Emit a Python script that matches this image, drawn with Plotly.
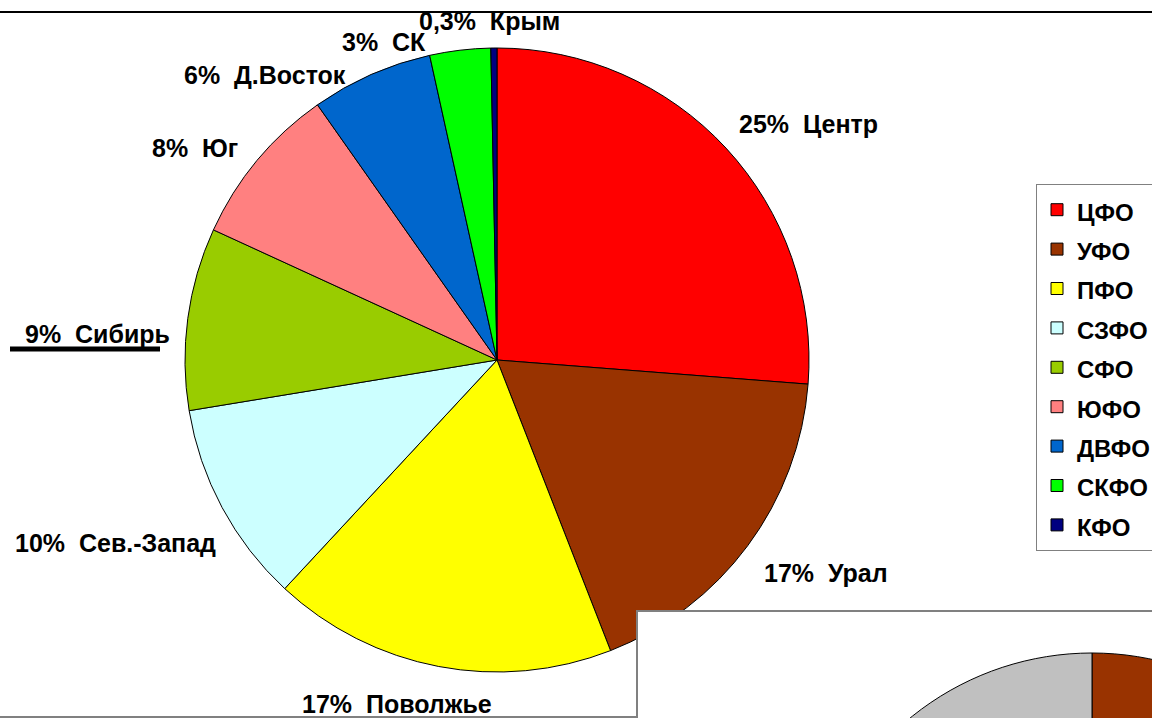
import numpy as np
import plotly.graph_objects as go

# federal districts, clockwise from 12 o'clock
districts = ["ЦФО", "УФО", "ПФО", "СЗФО", "СФО", "ЮФО", "ДВФО", "СКФО", "КФО"]
shares = [25, 17, 17, 10, 9, 8, 6, 3, 0.3]
pct_labels = ["25%", "17%", "17%", "10%", "9%", "8%", "6%", "3%", "0,3%"]
short_names = ["Центр", "Урал", "Поволжье", "Сев.-Запад", "Сибирь", "Юг",
               "Д.Восток", "СК", "Крым"]
colors = ["#FF0000", "#993300", "#FFFF00", "#CCFFFF", "#99CC00", "#FF8080",
          "#0066CC", "#00FF00", "#000080"]

# second (cut off) chart in the lower right corner
inset_values = [50, 50]
inset_colors = ["#993300", "#C0C0C0"]

W, H = 1152, 718
FONT = "Liberation Sans"
CX, CY, R = 497, 360, 312  # main pie centre / radius, px

# label placement relative to the slice's rim point (px), and anchor side
label_shift = [(11, 24), (14, -27), (-42, -37), (-4, -35), (-16, -16),
               (-17, 12), (-23, 0), (-32, 8), (-4, 27)]
label_anchor = ["left", "left", "center", "right", "right", "right",
                "right", "right", "center"]

legend_txt = ['<span style="font-size:24px">%s</span>' % d for d in districts]


def px(x, y):
    return x / W, 1 - y / H


fig = go.Figure()

fig.add_trace(go.Pie(
    labels=legend_txt,
    values=shares,
    textinfo="none",
    marker=dict(colors=colors, line=dict(color="black", width=1)),
    sort=False,
    direction="clockwise",
    rotation=0,
    hoverinfo="skip",
    domain=dict(x=[(CX - R) / W, (CX + R) / W],
                y=[1 - (CY + R) / H, 1 - (CY - R) / H]),
))

# labels anchored at the middle of each slice's arc
cum = np.cumsum([0] + shares) / sum(shares)
mid = (cum[:-1] + cum[1:]) / 2 * 2 * np.pi
annotations = []
for i, (p, n) in enumerate(zip(pct_labels, short_names)):
    rx = CX + R * np.sin(mid[i])
    ry = CY - R * np.cos(mid[i])
    ax, ay = px(rx, ry)
    annotations.append(dict(
        x=ax, y=ay, xref="paper", yref="paper",
        text=p + "\u00a0\u00a0" + n, showarrow=False,
        xanchor=label_anchor[i], yanchor="middle",
        xshift=label_shift[i][0], yshift=label_shift[i][1],
        font=dict(family=FONT, size=25, color="black", weight="bold"),
    ))

shapes = []
# frame lines
shapes.append(dict(type="line", xref="paper", yref="paper", x0=0, x1=1,
                   y0=px(0, 12)[1], y1=px(0, 12)[1],
                   line=dict(color="black", width=2), layer="below"))
shapes.append(dict(type="line", xref="paper", yref="paper", x0=0, x1=1,
                   y0=px(0, 717)[1], y1=px(0, 717)[1],
                   line=dict(color="#808080", width=2), layer="below"))
# stray underline under the Сибирь label
shapes.append(dict(type="line", xref="paper", yref="paper",
                   x0=px(10, 0)[0], x1=px(160, 0)[0],
                   y0=px(0, 349)[1], y1=px(0, 349)[1],
                   line=dict(color="black", width=5)))
# inset box
shapes.append(dict(type="rect", xref="paper", yref="paper",
                   x0=px(637, 0)[0], x1=1.05, y0=-0.05, y1=px(0, 611)[1],
                   fillcolor="white", line=dict(color="#808080", width=2),
                   layer="above"))

# inset pie wedges, clockwise from 12 o'clock
icx, icy, ir = 1092, 940, 287
fracs = np.cumsum([0] + inset_values) / sum(inset_values)
for i, col in enumerate(inset_colors):
    a = np.linspace(fracs[i], fracs[i + 1], 80) * 2 * np.pi
    xs = icx + ir * np.sin(a)
    ys = icy - ir * np.cos(a)
    pts = [px(icx, icy)] + [px(x, y) for x, y in zip(xs, ys)]
    path = "M " + " L ".join("%.5f,%.5f" % q for q in pts) + " Z"
    shapes.append(dict(type="path", xref="paper", yref="paper", path=path,
                       fillcolor=col, line=dict(color="black", width=1),
                       layer="above"))

fig.update_layout(
    width=W, height=H,
    margin=dict(l=0, r=0, t=0, b=0, autoexpand=False),
    paper_bgcolor="white",
    plot_bgcolor="white",
    showlegend=True,
    legend=dict(
        x=1036 / W, y=1 - 184 / H, xanchor="left", yanchor="top",
        font=dict(family=FONT, size=28, color="black", weight="bold"),
        bgcolor="white", bordercolor="#808080", borderwidth=1,
    ),
    shapes=shapes,
    annotations=annotations,
)

fig.write_html(
    "out.html",
    config={"displayModeBar": False},
    post_script="document.body.style.margin='0';"
                "document.body.style.overflow='hidden';",
)
